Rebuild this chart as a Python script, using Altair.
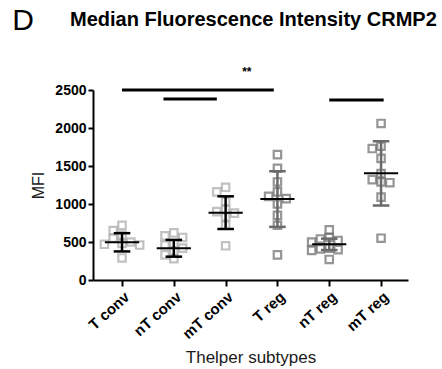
import altair as alt
import pandas as pd

groups = ["T conv", "nT conv", "mT conv", "T reg", "nT reg", "mT reg"]
kinds = ["conv", "conv", "conv", "reg", "reg", "reg"]

t_conv = [720, 650, 590, 550, 500, 480, 470, 460, 290]
nt_conv = [620, 580, 560, 480, 460, 420, 380, 330, 280]
mt_conv = [1220, 1160, 1030, 930, 900, 880, 830, 720, 450]
t_reg = [1650, 1470, 1290, 1160, 1100, 1070, 1000, 850, 720, 330]
nt_reg = [660, 560, 540, 520, 500, 420, 410, 400, 390, 270]
mt_reg = [2060, 1760, 1730, 1600, 1400, 1320, 1290, 1280, 1090, 550]

means = [496, 417, 886, 1065, 469, 1403]
sds = [120, 110, 215, 366, 75, 423]

sig_from = [0, 0.8, 4.0]
sig_to = [2.93, 1.83, 5.05]
sig_y = [2500, 2380, 2370]
star_text = ["**"]
star_x = [2.41]
star_y = [2740]

y_ticks = [0, 500, 1000, 1500, 2000, 2500]

series = [t_conv, nt_conv, mt_conv, t_reg, nt_reg, mt_reg]

# beeswarm-like horizontal spreading (GraphPad style scatter)
DX = 0.17
DY = 100
rows = []
for gi, vals in enumerate(series):
    placed = []
    for v in sorted(vals, reverse=True):
        cands = [0]
        for k in range(1, 6):
            cands += [-k * DX, k * DX]
        for off in cands:
            ok = True
            for (po, pv) in placed:
                if abs(po - off) < DX * 0.99 and abs(pv - v) < DY:
                    ok = False
                    break
            if ok:
                placed.append((off, v))
                break
    for off, v in placed:
        rows.append({"group": groups[gi], "kind": kinds[gi], "x": gi + off, "mfi": v})
pts = pd.DataFrame(rows)

stats = pd.DataFrame({
    "group": groups,
    "kind": kinds,
    "i": list(range(len(groups))),
    "mean": means,
    "sd": sds,
})
stats["lo"] = stats["mean"] - stats["sd"]
stats["hi"] = stats["mean"] + stats["sd"]
stats["mx1"] = stats["i"] - 0.33
stats["mx2"] = stats["i"] + 0.33
stats["cx1"] = stats["i"] - 0.16
stats["cx2"] = stats["i"] + 0.16

sig = pd.DataFrame({"x1": sig_from, "x2": sig_to, "y": sig_y})
stars = pd.DataFrame({"t": star_text, "x": star_x, "y": star_y})

label_expr = "[" + ",".join("'" + g + "'" for g in groups) + "][datum.value]"

xscale = alt.Scale(domain=[-0.56, 5.52], nice=False, zero=False)
yscale = alt.Scale(domain=[0, 2500], nice=False, zero=True)

FONT = "Liberation Sans"

x_axis = alt.Axis(
    values=list(range(len(groups))),
    labelExpr=label_expr,
    labelAngle=-42,
    labelAlign="right",
    labelBaseline="top",
    labelPadding=3,
    labelFontSize=15,
    labelFontWeight="bold",
    labelFont=FONT,
    labelColor="black",
    labelOverlap=False,
    labelFlush=False,
    title="Thelper subtypes",
    titleFont=FONT,
    titleFontSize=17,
    titleFontWeight="normal",
    titleColor="#1a1a1a",
    titlePadding=8,
    grid=False,
    domainColor="black",
    domainWidth=2,
    tickColor="black",
    tickWidth=2,
    tickSize=6,
)
y_axis = alt.Axis(
    values=y_ticks,
    format="d",
    labelFontSize=14,
    labelFontWeight="bold",
    labelFont=FONT,
    labelColor="black",
    labelPadding=2,
    labelOverlap=False,
    labelFlush=False,
    title="MFI",
    titleFont=FONT,
    titleFontSize=16,
    titleFontWeight="normal",
    titleColor="#1a1a1a",
    titlePadding=8,
    grid=False,
    domainColor="black",
    domainWidth=2,
    tickColor="black",
    tickWidth=2,
    tickSize=5,
)


def X(field):
    return alt.X(field, scale=xscale, axis=x_axis, title="Thelper subtypes")


def Y(field):
    return alt.Y(field, scale=yscale, axis=y_axis, title="MFI")


kind_color = alt.Scale(domain=["conv", "reg"], range=["#a8a8a8", "#6a6a6a"])
bar_color = alt.Scale(domain=["conv", "reg"], range=["#000000", "#6a6a6a"])

points = alt.Chart(pts).mark_square(filled=False, size=55, strokeWidth=2.2).encode(
    x=X("x:Q"),
    y=Y("mfi:Q"),
    color=alt.Color("kind:N", scale=kind_color, legend=None),
)

base = alt.Chart(stats)
err = base.mark_rule(strokeWidth=2.5).encode(
    x=X("i:Q"),
    y=Y("lo:Q"),
    y2="hi:Q",
    stroke=alt.Stroke("kind:N", scale=bar_color, legend=None),
)
cap_hi = base.mark_rule(strokeWidth=2.5).encode(
    x=X("cx1:Q"),
    x2="cx2:Q",
    y=Y("hi:Q"),
    stroke=alt.Stroke("kind:N", scale=bar_color, legend=None),
)
cap_lo = base.mark_rule(strokeWidth=2.5).encode(
    x=X("cx1:Q"),
    x2="cx2:Q",
    y=Y("lo:Q"),
    stroke=alt.Stroke("kind:N", scale=bar_color, legend=None),
)
mean_line = base.mark_rule(strokeWidth=2, color="black").encode(
    x=X("mx1:Q"),
    x2="mx2:Q",
    y=Y("mean:Q"),
)

sig_lines = alt.Chart(sig).mark_rule(strokeWidth=3, color="black").encode(
    x=X("x1:Q"),
    x2="x2:Q",
    y=Y("y:Q"),
)
star = alt.Chart(stars).mark_text(font=FONT, fontSize=12, fontWeight="bold", color="black").encode(
    x=X("x:Q"),
    y=Y("y:Q"),
    text="t:N",
)

panel = alt.Chart(pd.DataFrame({"t": ["D"]})).mark_text(
    font=FONT, fontSize=30, align="center", baseline="alphabetic", color="black"
).encode(x=alt.value(-70), y=alt.value(-60), text="t:N")

title = alt.Chart(pd.DataFrame({"t": ["Median Fluorescence Intensity CRMP2"]})).mark_text(
    font=FONT, fontSize=20, fontWeight="bold", align="left", baseline="alphabetic", color="black"
).encode(x=alt.value(-23), y=alt.value(-64), text="t:N")

chart = alt.layer(points, err, cap_hi, cap_lo, mean_line, sig_lines, star, panel, title).resolve_scale(
    color="independent"
).properties(
    width=315,
    height=190,
    padding={"left": 93, "top": 90, "right": 34, "bottom": 89},
    autosize="none",
).configure(background="white").configure_view(stroke=None)

chart.save("out.html", embed_options={"renderer": "svg", "actions": False})
